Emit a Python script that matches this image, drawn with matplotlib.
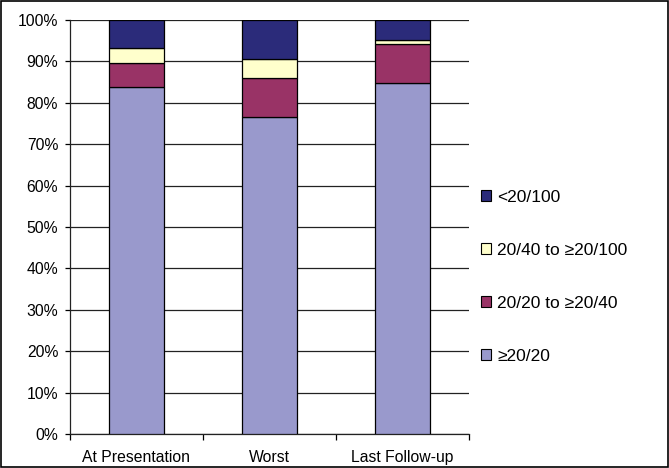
import matplotlib
matplotlib.use("Agg")
import matplotlib.pyplot as plt
from matplotlib.patches import Patch, Rectangle
import numpy as np

plt.rcParams['font.family'] = ['Liberation Sans', 'DejaVu Sans']

categories = ["At Presentation", "Worst", "Last Follow-up"]
series_names = ["≥20/20", "20/20 to ≥20/40", "20/40 to ≥20/100", "<20/100"]
ge_20_20 = [83.9, 76.6, 84.9]
to_20_40 = [5.8, 9.4, 9.4]
to_20_100 = [3.5, 4.6, 0.9]
lt_20_100 = [6.8, 9.4, 4.8]
colors = ["#9999CC", "#993366", "#FFFFCC", "#2B2B7A"]

fig = plt.figure(figsize=(6.69, 4.68), dpi=100)
ax = fig.add_axes([70/669, 34/468, 399/669, 414/468])

x = np.arange(len(categories))
bottom = np.zeros(len(categories))
handles = []
for vals, name, c in zip([ge_20_20, to_20_40, to_20_100, lt_20_100], series_names, colors):
    ax.bar(x, vals, width=0.41, bottom=bottom, color=c, edgecolor="black", linewidth=0.9, zorder=3)
    bottom += np.array(vals)
    handles.append(Patch(facecolor=c, edgecolor="black", linewidth=0.8, label=name))

ax.set_xlim(-0.5, 2.5)
ax.set_ylim(0, 100)
ax.set_yticks(np.arange(0, 101, 10))
ax.set_yticklabels([f"{v}%" for v in range(0, 101, 10)], fontsize=11.3)
ax.yaxis.grid(True, color="#222222", linewidth=0.9, zorder=0)
ax.set_axisbelow(True)
ax.set_xticks(x)
ax.set_xticklabels(categories, fontsize=11.3)
ax.tick_params(axis="x", which="major", length=0, pad=11.5)
ax.set_xticks([-0.5, 0.5, 1.5, 2.5], minor=True)
ax.tick_params(axis="x", which="minor", length=4, direction="out", width=0.9)
ax.tick_params(axis="y", length=3.5, direction="out", width=0.9, pad=5)
for s in ["top", "right"]:
    ax.spines[s].set_visible(False)
for s in ["left", "bottom"]:
    ax.spines[s].set_linewidth(0.9)
    ax.spines[s].set_color("#222222")

fig.legend(handles=handles[::-1], loc="upper left", bbox_to_anchor=(474/669, 1 - 183/468),
           frameon=False, fontsize=12.5, handlelength=0.6, handleheight=0.6,
           handletextpad=0.35, labelspacing=2.19, borderaxespad=0)

fig.patches.append(Rectangle((0.0015, 0.002), 0.997, 0.996, transform=fig.transFigure,
                             fill=False, edgecolor="black", linewidth=1.2))

fig.savefig("out.png", dpi=100)
